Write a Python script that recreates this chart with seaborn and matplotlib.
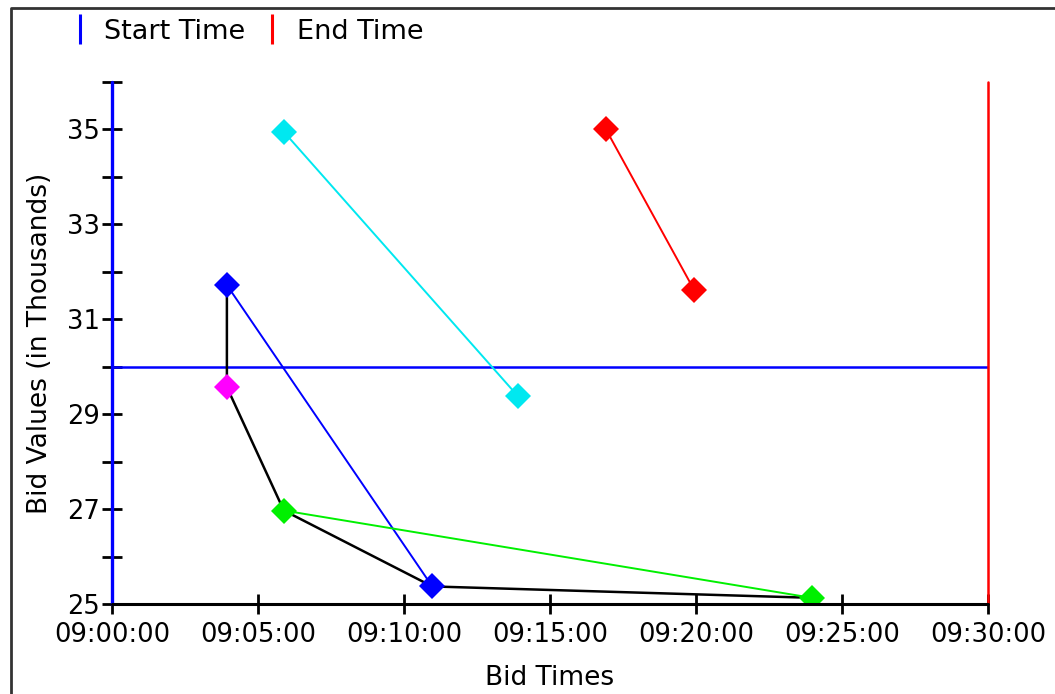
import matplotlib
matplotlib.use("Agg")
import matplotlib.pyplot as plt
import matplotlib.dates as mdates
from matplotlib.lines import Line2D
import seaborn as sns
import pandas as pd

sns.set_theme(style="white")
plt.rcParams['font.family'] = ['DejaVu Sans']

DAY = "2000-01-01 "

# --- data ---
cyan_times = ["09:05:53", "09:13:54"]
cyan_values = [34.95, 29.38]
red_times = ["09:16:55", "09:19:56"]
red_values = [35.0, 31.62]
blue_times = ["09:03:56", "09:10:58"]
blue_values = [31.72, 25.37]
magenta_times = ["09:03:56"]
magenta_values = [29.57]
green_times = ["09:05:53", "09:23:58"]
green_values = [26.97, 25.13]
# best-bid path (black)
best_times = ["09:03:56", "09:03:56", "09:05:53", "09:10:58", "09:23:58"]
best_values = [31.72, 29.57, 26.97, 25.37, 25.13]
reserve_value = 30
start_time = "09:00:00"
end_time = "09:30:00"
x_ticks = ["09:00:00", "09:05:00", "09:10:00", "09:15:00", "09:20:00", "09:25:00", "09:30:00"]
y_major = [25, 27, 29, 31, 33, 35]
y_minor = [26, 28, 30, 32, 34, 36]
y_range = [25, 36]
legend_labels = ["Start Time", "End Time"]

series = [
    ("cyan", cyan_times, cyan_values, "#00E8F0"),
    ("red", red_times, red_values, "#FF0000"),
    ("blue", blue_times, blue_values, "#0000FF"),
    ("magenta", magenta_times, magenta_values, "#FF00FF"),
    ("green", green_times, green_values, "#00F000"),
]
rows = []
for name, ts, vs, _ in series:
    for t, v in zip(ts, vs):
        rows.append({"bidder": name, "time": pd.to_datetime(DAY + t), "value": v})
df = pd.DataFrame(rows)
palette = {name: c for name, _, _, c in series}

best_df = pd.DataFrame({"time": pd.to_datetime([DAY + t for t in best_times]),
                        "value": best_values})

fig = plt.figure(figsize=(10.55, 6.94), dpi=100)
ax = fig.add_axes([0.1062, 0.1297, 0.8303, 0.7521])

t0 = pd.to_datetime(DAY + start_time)
t1 = pd.to_datetime(DAY + end_time)

sns.lineplot(data=best_df, x="time", y="value", color="black", lw=1.8,
             sort=False, estimator=None, ax=ax, zorder=2)
sns.lineplot(data=df, x="time", y="value", hue="bidder", palette=palette,
             marker="D", markersize=13, markeredgewidth=0, lw=1.4,
             sort=False, estimator=None, legend=False, ax=ax, zorder=3)

ax.axhline(reserve_value, color="#0000FF", lw=1.8, zorder=1)
ax.axvline(t0, color="#0000FF", lw=2.4, zorder=4, clip_on=False)
ax.axvline(t1, color="#FF0000", lw=1.8, zorder=4, clip_on=False)
ax.axhline(y_range[0], color="black", lw=2.2, zorder=4, clip_on=False)

for s in ax.spines.values():
    s.set_visible(False)

ax.set_xlim(t0, t1)
ax.set_ylim(*y_range)
ax.set_xticks(pd.to_datetime([DAY + t for t in x_ticks]))
ax.xaxis.set_major_formatter(mdates.DateFormatter("%H:%M:%S"))
ax.set_yticks(y_major)
ax.set_yticks(y_minor, minor=True)
ax.tick_params(axis="both", which="both", direction="inout", length=14, width=2,
               color="black", labelsize=18.5, labelcolor="black")
ax.tick_params(axis="y", which="both", left=True, pad=2)
ax.tick_params(axis="x", which="major", bottom=True, pad=6)
ax.set_xlabel("Bid Times", fontsize=19, color="black", labelpad=12)
ax.set_ylabel("Bid Values (in Thousands)", fontsize=19, color="black", labelpad=10)
ax.set_facecolor("white")

handles = [Line2D([], [], color="#0000FF", marker="|", ls="none", markersize=22, markeredgewidth=2.2),
           Line2D([], [], color="#FF0000", marker="|", ls="none", markersize=22, markeredgewidth=2.2)]
fig.legend(handles, legend_labels, loc="upper left", bbox_to_anchor=(0.042, 1.008), ncol=2,
           frameon=False, fontsize=19.5, handlelength=0.8, handletextpad=0.5, columnspacing=0.6,
           labelcolor="black")

# outer border (top and left visible)
fig.add_artist(Line2D([11 / 1055, 11 / 1055, 1.0], [0.0, 1 - 8 / 694, 1 - 8 / 694],
                      transform=fig.transFigure, color="#333333", lw=2))

fig.savefig("out.png", dpi=100, facecolor="white")
